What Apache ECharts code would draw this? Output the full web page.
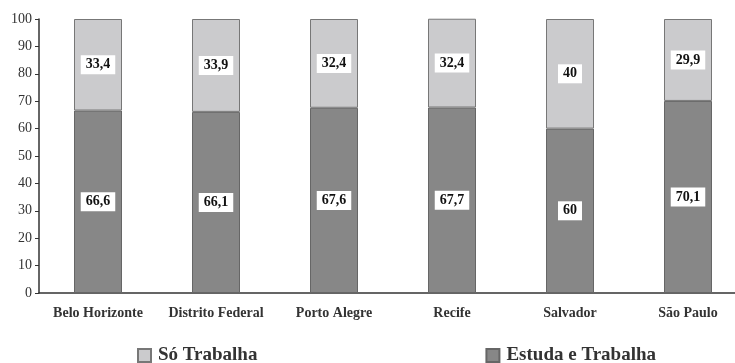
<!DOCTYPE html>
<html>
<head>
<meta charset="utf-8">
<script src="https://cdn.jsdelivr.net/npm/echarts@6/dist/echarts.min.js"></script>
<style>
  html, body { margin: 0; padding: 0; background: #fff; }
  #chart { width: 735px; height: 363px; }
</style>
</head>
<body>
<div id="chart"></div>
<script>
// Cities (categories) and the share of young workers in each group (%)
const cities = ['Belo Horizonte', 'Distrito Federal', 'Porto Alegre', 'Recife', 'Salvador', 'São Paulo'];
const estudaETrabalha = [66.6, 66.1, 67.6, 67.7, 60, 70.1];
const soTrabalha = [33.4, 33.9, 32.4, 32.4, 40, 29.9];
const yTicks = { min: 0, max: 100, interval: 10 };

const serif = '"Liberation Serif", "Times New Roman", serif';
const fmt = v => String(v).replace('.', ',');

const valueLabel = {
  show: true,
  position: 'inside',
  formatter: p => fmt(p.value),
  color: '#111',
  fontFamily: serif,
  fontWeight: 'bold',
  fontSize: 14,
  backgroundColor: '#fff',
  padding: [3, 5, 2, 5]
};

const chart = echarts.init(document.getElementById('chart'));
chart.setOption({
  animation: false,
  grid: { left: 39, top: 19, width: 708, height: 274, containLabel: false, outerBoundsMode: 'none' },
  legend: {
    data: ['Só Trabalha', 'Estuda e Trabalha'],
    left: 132,
    top: 341,
    itemWidth: 13,
    itemHeight: 13,
    itemGap: 228,
    icon: 'rect',
    textStyle: { fontFamily: serif, fontWeight: 'bold', fontSize: 19, color: '#333', padding: [0, 0, 0, 2] }
  },
  xAxis: {
    type: 'category',
    data: cities,
    axisLine: { lineStyle: { color: '#333', width: 1.5 } },
    axisTick: { length: 4, lineStyle: { color: '#333' } },
    axisLabel: { interval: 0, fontFamily: serif, fontWeight: 'bold', fontSize: 14, color: '#333', margin: 13 }
  },
  yAxis: {
    type: 'value',
    min: yTicks.min,
    max: yTicks.max,
    interval: yTicks.interval,
    axisLine: { show: true, lineStyle: { color: '#333', width: 1.5 } },
    axisTick: { show: true, length: 4, lineStyle: { color: '#333' } },
    splitLine: { show: false },
    axisLabel: { fontFamily: serif, fontSize: 14, color: '#333', margin: 7 }
  },
  series: [
    {
      name: 'Estuda e Trabalha',
      type: 'bar',
      stack: 'total',
      data: estudaETrabalha,
      barWidth: 48,
      itemStyle: { color: '#878787', borderColor: '#666', borderWidth: 1 },
      label: valueLabel
    },
    {
      name: 'Só Trabalha',
      type: 'bar',
      stack: 'total',
      data: soTrabalha,
      barWidth: 48,
      itemStyle: { color: '#cbcbcd', borderColor: '#777', borderWidth: 1 },
      label: valueLabel
    }
  ]
});
</script>
</body>
</html>
